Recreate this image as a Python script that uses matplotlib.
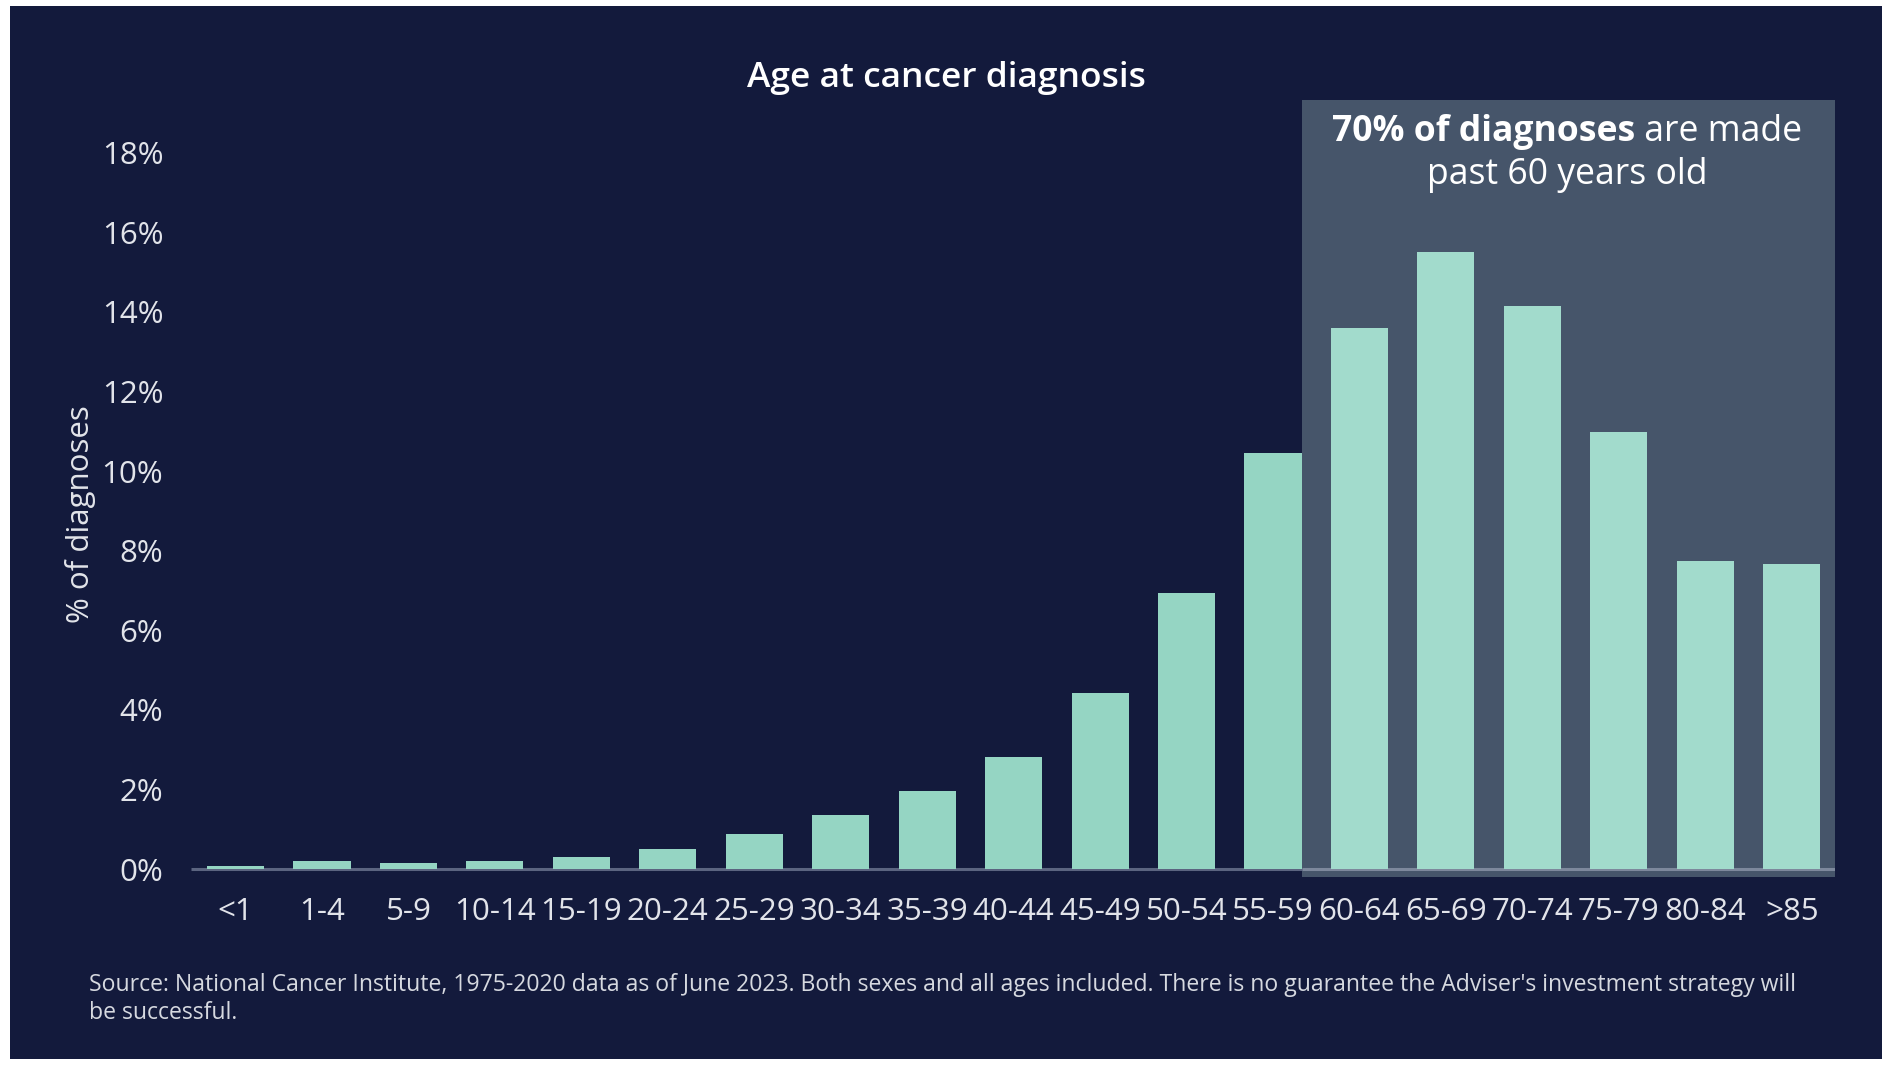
import matplotlib.pyplot as plt
from matplotlib.patches import Rectangle

ages = ['<1', '1-4', '5-9', '10-14', '15-19', '20-24', '25-29', '30-34', '35-39',
        '40-44', '45-49', '50-54', '55-59', '60-64', '65-69', '70-74', '75-79',
        '80-84', '>85']
pct = [0.07, 0.2, 0.15, 0.2, 0.3, 0.5, 0.88, 1.36, 1.97, 2.82, 4.42, 6.94,
       10.45, 13.6, 15.5, 14.15, 10.97, 7.73, 7.67]
yticks = [0, 2, 4, 6, 8, 10, 12, 14, 16, 18]
first_old = 13  # index of 60-64

navy = '#131a3c'
panel = '#46556a'
bar_c = '#95d5c3'
bar_hi = '#a2dbcc'
txt = '#e2e4ea'

plt.rcParams['font.family'] = ['Open Sans', 'DejaVu Sans']

W, H = 1890, 1076
fig = plt.figure(figsize=(W / 100, H / 100), dpi=100, facecolor='white')
fig.patches.append(Rectangle((10 / W, 1 - 1059 / H), 1872 / W, 1053 / H,
                             transform=fig.transFigure, facecolor=navy,
                             edgecolor='none', zorder=-10))

ax = fig.add_axes([191 / W, 1 - 877 / H, 1644 / W, 780 / H])
ax.set_facecolor('none')
ax.set_xlim(-0.515, 18.5)
ax.set_ylim(-0.2, 19.4)

# shaded "past 60" panel
ax.axvspan(first_old - 0.665, 18.5, ymax=(877 - 100) / 780, color=panel, zorder=1, lw=0)

x = list(range(len(ages)))
colors = [bar_hi if i >= first_old else bar_c for i in x]
ax.bar(x, pct, width=0.66, color=colors, zorder=3)
ax.plot([-0.515, first_old - 0.665], [0, 0], color='#5b6480', lw=2.2, zorder=2,
        solid_capstyle='butt')
ax.plot([first_old - 0.665, 18.5], [0, 0], color='#7d889c', lw=2.2, zorder=2,
        solid_capstyle='butt')

ax.set_xticks(x)
ax.set_xticklabels(ages, fontsize=22.5, color=txt)
ax.set_yticks(yticks)
ax.set_yticklabels([f'{v}%' for v in yticks], fontsize=22.5, color=txt)
ax.tick_params(axis='both', length=0)
ax.tick_params(axis='x', pad=14.5)
ax.tick_params(axis='y', pad=20)
for s in ax.spines.values():
    s.set_visible(False)

ax.set_ylabel('% of diagnoses', fontsize=22.5, color=txt)
ax.yaxis.set_label_coords(-0.058, 0.465)

fig.text(946 / W, 1 - 78 / H, 'Age at cancer diagnosis', ha='center', va='center',
         fontsize=25.5, color='white', fontweight='semibold')

# panel annotation: bold + regular on first line
cx = 1567 / W
t1 = fig.text(0, 1 - 132 / H, '70% of diagnoses', ha='left', va='center',
              fontsize=25.6, color='white', fontweight='bold')
t2 = fig.text(0, 1 - 132 / H, ' are made', ha='left', va='center',
              fontsize=25.6, color='white')
fig.canvas.draw()
r = fig.canvas.get_renderer()
w1 = t1.get_window_extent(r).width / W
w2 = t2.get_window_extent(r).width / W
x0 = cx - (w1 + w2) / 2
t1.set_x(x0)
t2.set_x(x0 + w1)
fig.text(cx, 1 - 175 / H, 'past 60 years old', ha='center', va='center',
         fontsize=25.6, color='white')

fig.text(89 / W, 1 - 985 / H,
         "Source: National Cancer Institute, 1975-2020 data as of June 2023. Both sexes and all ages "
         "included. There is no guarantee the Adviser's investment strategy will",
         ha='left', va='center', fontsize=16.6, color='#d6d9e0')
fig.text(89 / W, 1 - 1013 / H, 'be successful.', ha='left', va='center',
         fontsize=16.6, color='#d6d9e0')

fig.savefig('out.png', dpi=100, facecolor='white')
